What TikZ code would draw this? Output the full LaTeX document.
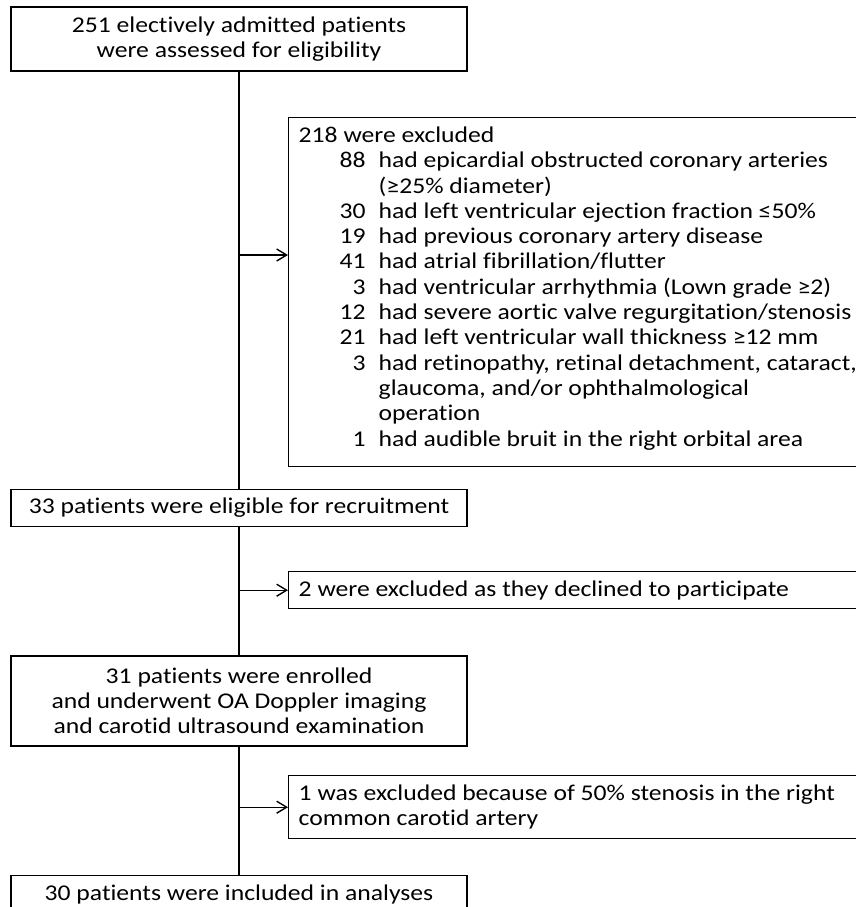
\documentclass[tikz,border=0pt]{standalone}
\usepackage{fontspec}
\setmainfont{Carlito}[FakeStretch=1.14, Ligatures=NoCommon]
\usepackage{tikz}
\usetikzlibrary{arrows.meta}
\usetikzlibrary{positioning}
\tikzset{basic/.style={draw,line width=1.4pt,inner sep=0pt}}
\tikzset{mainbox/.style={basic,minimum width=456pt,align=center}}
\tikzset{sidebox/.style={basic,anchor=north west,inner xsep=10pt,text width=580pt,align=flush left}}

\begin{document}
\begin{tikzpicture}[
		x = 1pt, y = -1pt, % pixel grid
		> = {Straight Barb[length=10pt,width=12pt]}, % arrow head style
		line width = 1.4pt,
		font = \fontsize{22.5}{25.3}\selectfont
		]
		\useasboundingbox (0,0) rectangle (856,907);
		\clip (0,0) rectangle (856,907);
		
		\node[mainbox, minimum height=64pt] (assess) at (239,39) {251 electively admitted patients\\were assessed for eligibility};
		\node[mainbox, minimum height=37pt] (elig) [below=417pt of assess] {33 patients were eligible for recruitment};
		\node[mainbox, minimum height=90pt] (enrol) [below=128pt of elig] {31 patients were enrolled\\and underwent OA Doppler imaging\\and carotid ultrasound examination};
		\node[mainbox, minimum height=38pt] (incl) [below=128pt of enrol] {30 patients were included in analyses};
		
		\node[sidebox, minimum height=349pt] (excl1) at (288,117) {%
			\begin{tabular}{@{\hspace{41pt}}r@{\hspace{13pt}}l}
				\multicolumn{2}{@{}l}{218 were excluded}\\
				88 & had epicardial obstructed coronary arteries\\
				& (≥25\% diameter)\\
				30 & had left ventricular ejection fraction ≤50\%\\
				19 & had previous coronary artery disease\\
				41 & had atrial fibrillation/flutter\\
				3 & had ventricular arrhythmia (Lown grade ≥2)\\
				12 & had severe aortic valve regurgitation/stenosis\\
				21 & had left ventricular wall thickness ≥12 mm\\
				3 & had retinopathy, retinal detachment, cataract,\\
				& glaucoma, and/or ophthalmological\\
				& operation\\
				1 & had audible bruit in the right orbital area\\[6pt]
			\end{tabular}};
		\node[sidebox, minimum height=37pt] (excl2) at (288,571) {2 were excluded as they declined to participate};
		\node[sidebox, minimum height=63pt] (excl3) at (288,775) {1 was excluded because of 50\% stenosis in the right\\common carotid artery};
		
		% Trunk
		\draw (assess) -- (elig);
		\draw (elig) -- (enrol);
		\draw (enrol) -- (incl);
		
		% Exclusions
		\coordinate (j1) at (239,255);
		\draw[->] (j1) -- (j1 -| excl1.west);
		\draw[->] (elig |- excl2.west) -- (excl2.west);
		\draw[->] (enrol |- excl3.west) -- (excl3.west);
\end{tikzpicture}
\end{document}
